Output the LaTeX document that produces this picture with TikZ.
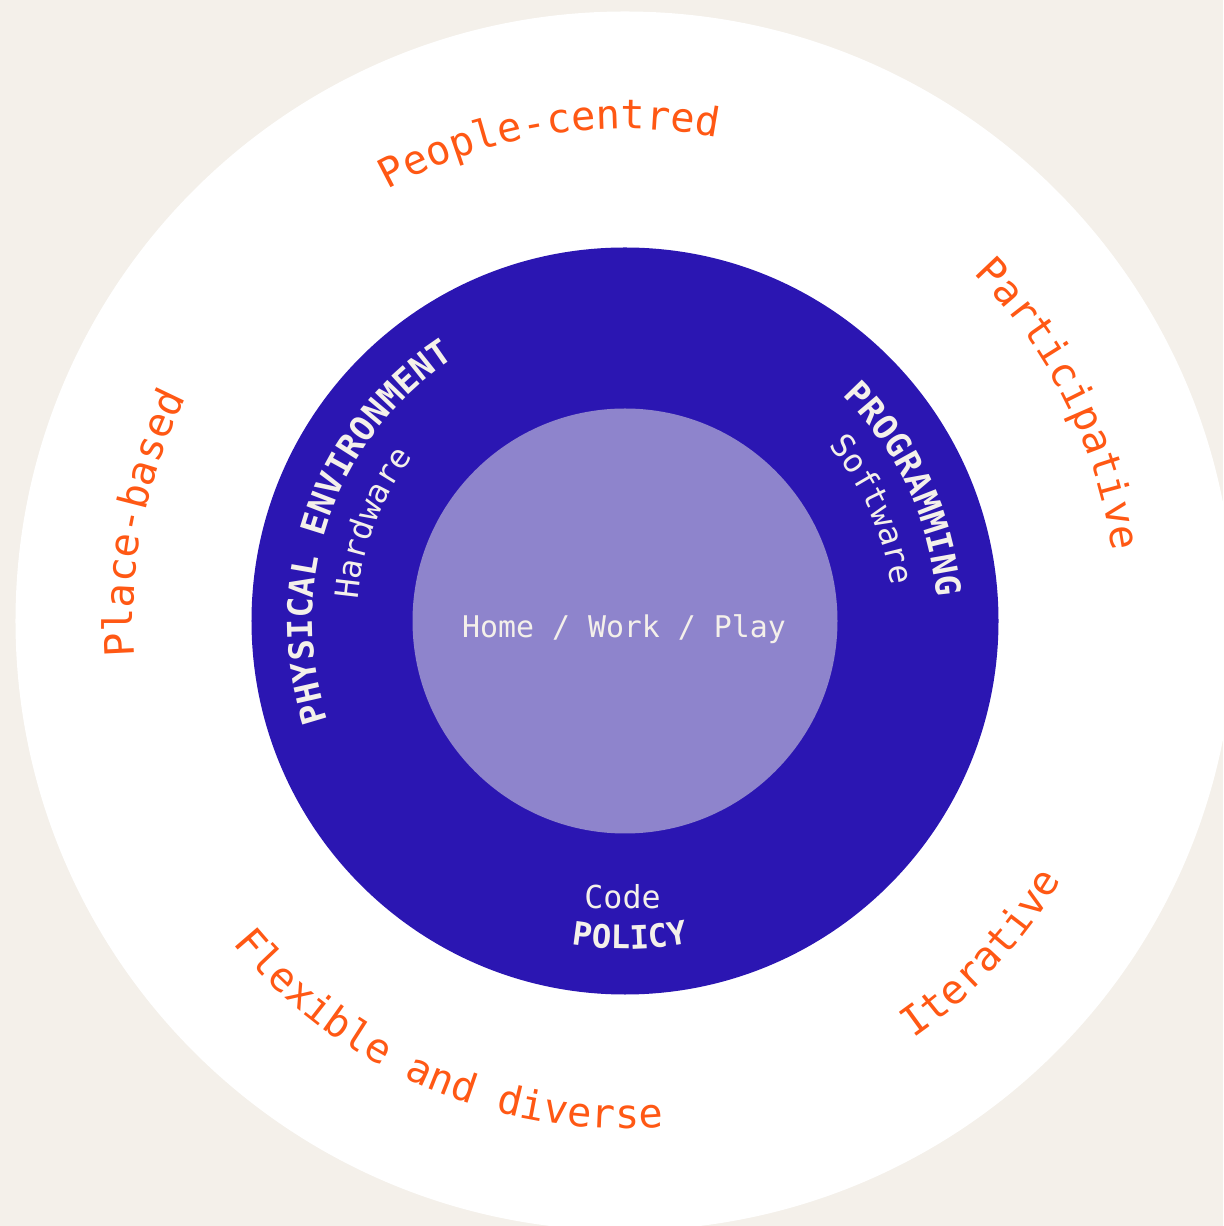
\documentclass[tikz,border=0pt]{standalone}
\usepackage{fontspec}
\setmonofont{DejaVu Sans Mono}
\usetikzlibrary{decorations.text}
\definecolor{paper}{RGB}{244,240,234}
\definecolor{ink}{RGB}{43,22,178}
\definecolor{lilac}{RGB}{142,132,204}
\definecolor{accent}{RGB}{255,88,20}
\newcommand\valuefont{\color{accent}\fontsize{23}{23}\selectfont\ttfamily}
\newcommand\layerfont{\color{paper}\fontsize{19.5}{19.5}\selectfont\ttfamily\bfseries}
\newcommand\toolfont{\color{paper}\fontsize{18.4}{18.4}\selectfont\ttfamily}
\tikzset{
  ontext/.style={decorate,decoration={text along path,text align=center,text={#1}}},
  plain/.style={text=paper,font=\fontsize{17}{17}\selectfont\ttfamily,inner sep=0pt}
}
\begin{document}
\begin{tikzpicture}
  \useasboundingbox (-12.5,-12.1) rectangle (11.96,12.42);
  \clip (-12.5,-12.1) rectangle (11.96,12.42);
  \fill[paper] (-12.5,-12.1) rectangle (11.96,12.42);
  \fill[white] (0,0) circle (12.19);
  \fill[ink] (0,0) circle (7.47);
  \fill[lilac] (0,0) circle (4.25);
  \node[plain,anchor=base] (core) at (-0.02,-0.34) {Home / Work / Play};
  \node[plain,anchor=base,font=\fontsize{18}{18}\selectfont\ttfamily] (code) at (-0.05,-5.74) {Code};
  % values, clockwise on top, anticlockwise below
  \path[ontext={|\valuefont|People-centred}] (134:9.84) arc[start angle=134,end angle=64,radius=9.84];
  \path[ontext={|\valuefont|Place-based}] (203.6:9.84) arc[start angle=203.6,end angle=133.6,radius=9.84];
  \path[ontext={|\valuefont|Participative}] (61.5:9.84) arc[start angle=61.5,end angle=-8.5,radius=9.84];
  \path[ontext={|\valuefont|Iterative}] (-78:10.15) arc[start angle=-78,end angle=-8,radius=10.15];
  \path[ontext={|\valuefont|Flexible and diverse}] (206.9:10.15) arc[start angle=206.9,end angle=286.9,radius=10.15];
  % layers
  \path[ontext={|\layerfont|PHYSICAL ENVIRONMENT}] (210.7:6.26) arc[start angle=210.7,end angle=110.7,radius=6.26];
  \path[ontext={|\toolfont|Hardware}] (198.8:5.36) arc[start angle=198.8,end angle=118.8,radius=5.36];
  \path[ontext={|\layerfont|PROGRAMMING}] (65.25:6.25) arc[start angle=65.25,end angle=-14.75,radius=6.25];
  \path[ontext={|\toolfont|Software}] (64.15:5.36) arc[start angle=64.15,end angle=-15.85,radius=5.36];
  \path[ontext={|\layerfont\fontsize{18.4}{18.4}\selectfont|POLICY}] (240.9:6.56) arc[start angle=240.9,end angle=300.9,radius=6.56];
\end{tikzpicture}
\end{document}
